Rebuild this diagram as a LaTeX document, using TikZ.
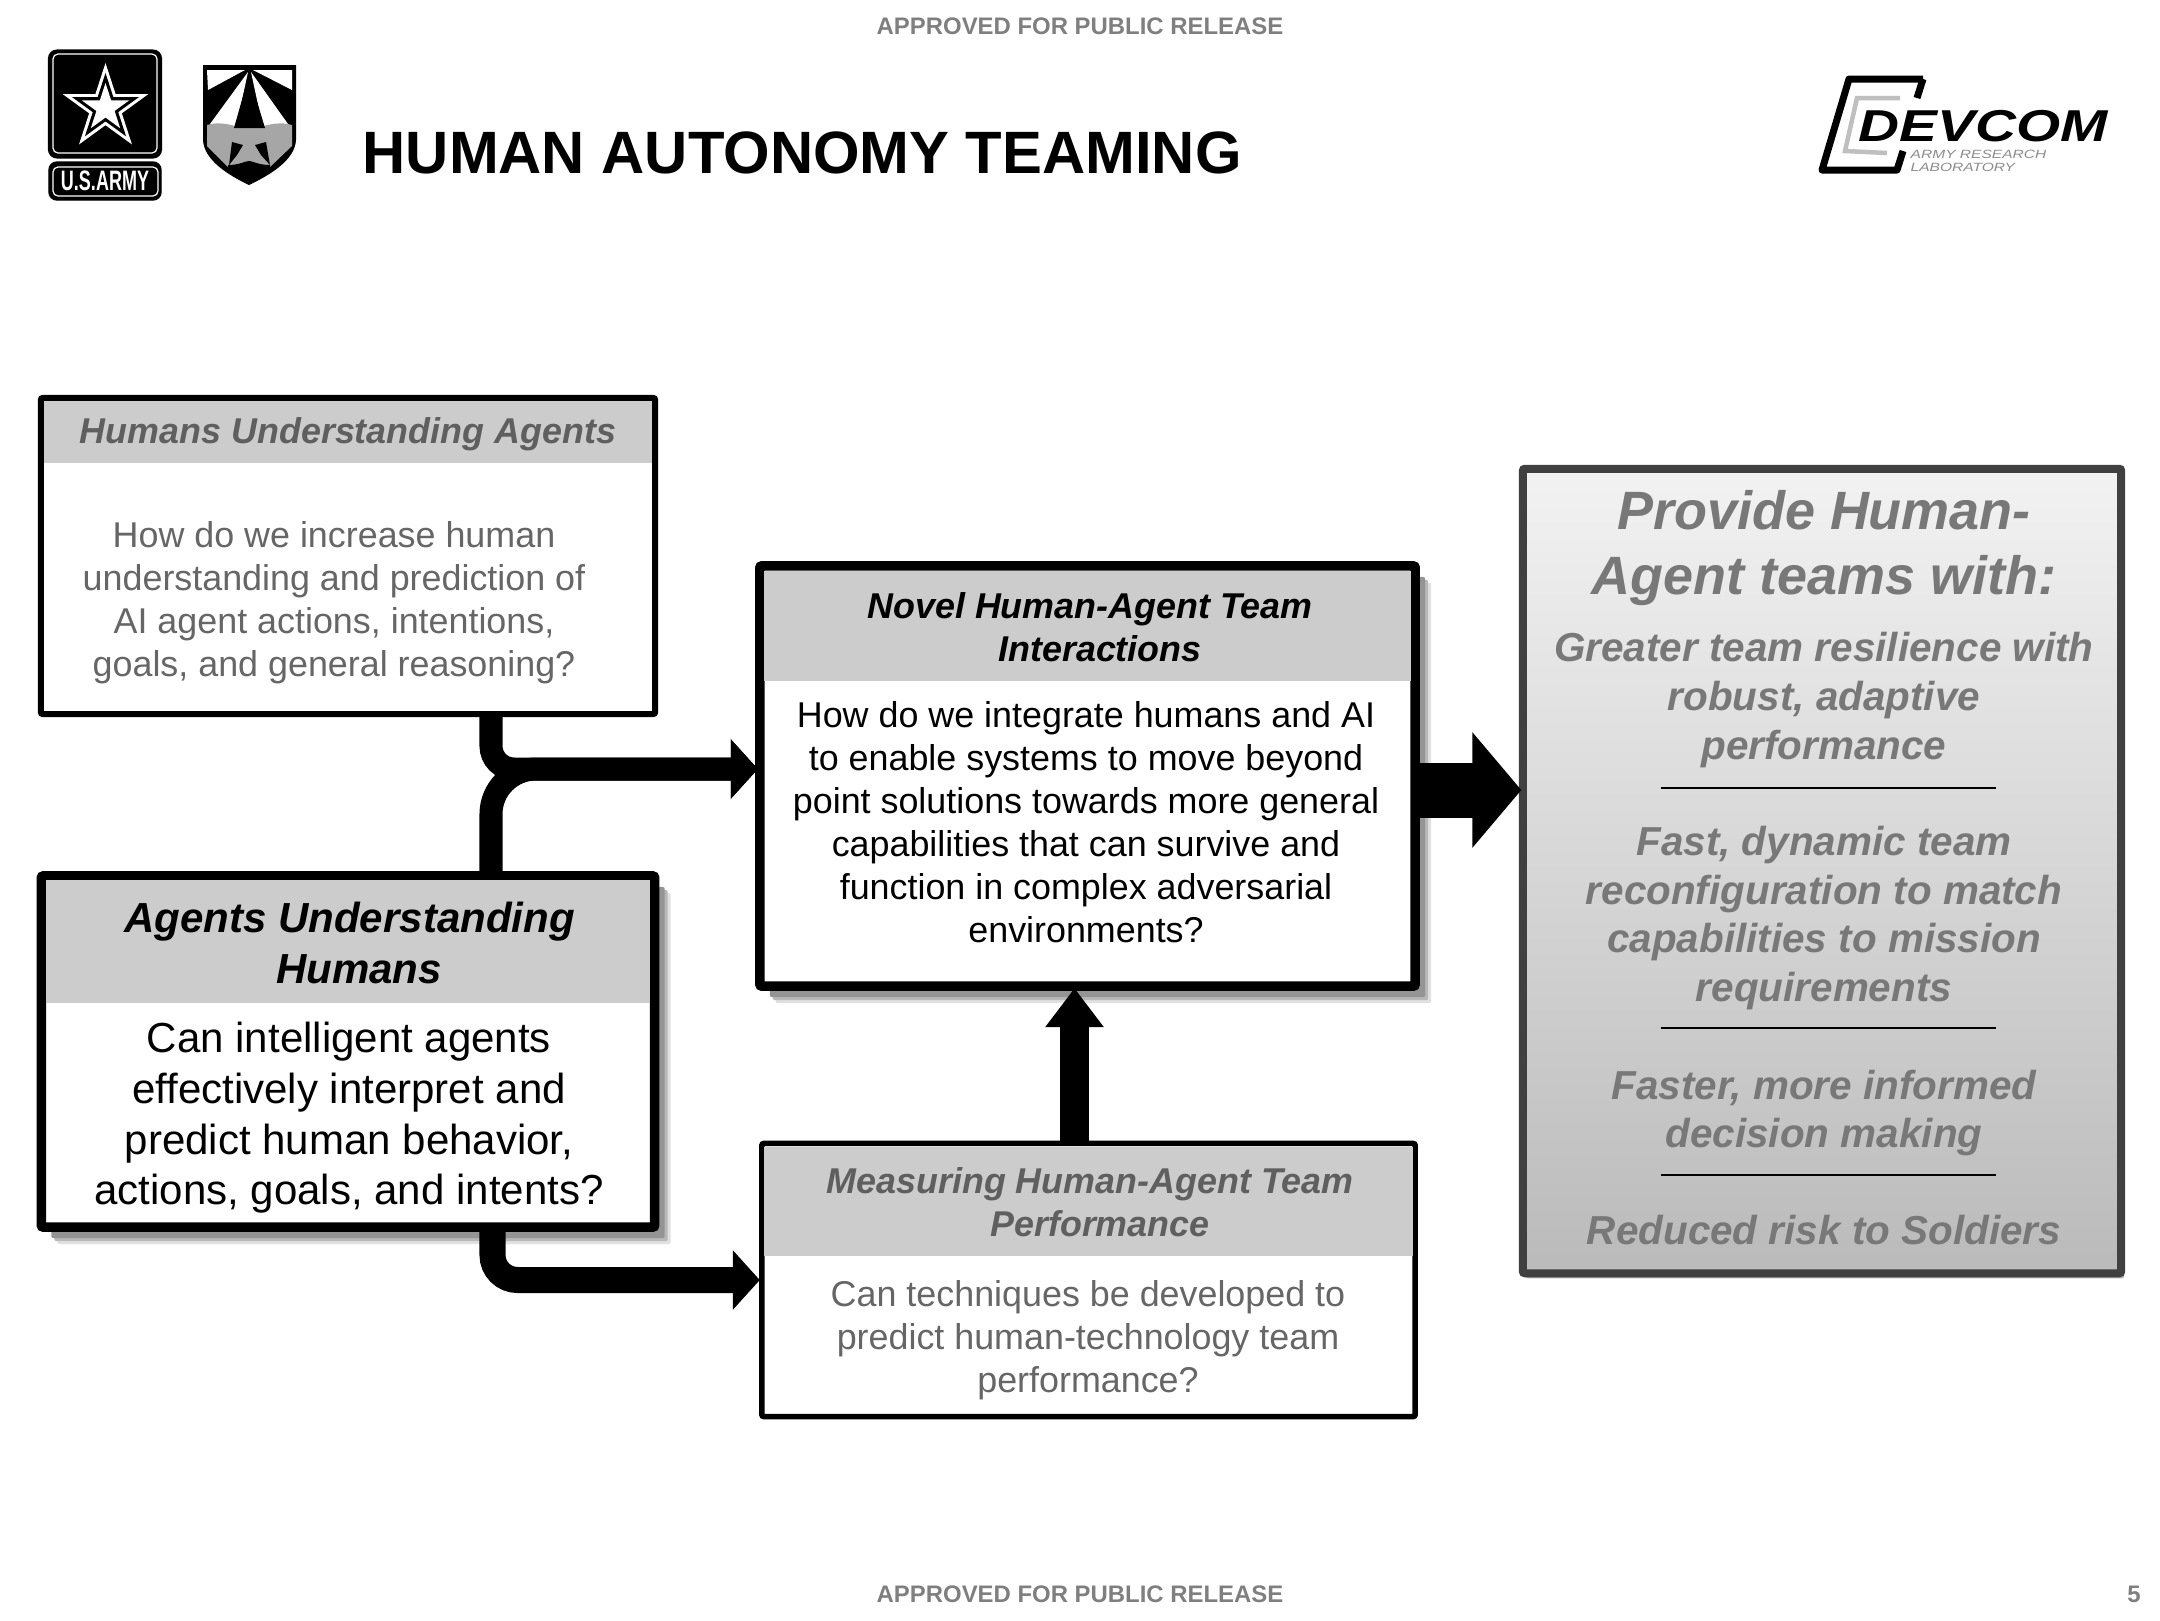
\documentclass[tikz,border=0pt]{standalone}
\usepackage{fontspec}
\setmainfont{Liberation Sans}
\usetikzlibrary{arrows.meta,shapes.geometric,positioning,calc,shadows}
\definecolor{softtext}{HTML}{666666}
\definecolor{softhead}{HTML}{5F5F5F}
\definecolor{panelink}{HTML}{787878}
\definecolor{bannerink}{HTML}{7F7F7F}
\definecolor{headfill}{HTML}{CCCCCC}
\tikzset{
  softdrop/.style={drop shadow={shadow xshift=0.16cm,shadow yshift=-0.17cm,fill=black!12,opacity=1},
    drop shadow={shadow xshift=0.13cm,shadow yshift=-0.14cm,fill=black!28,opacity=1},
    drop shadow={shadow xshift=0.1cm,shadow yshift=-0.11cm,fill=black!42,opacity=1}},
  frame/.style={draw=black,fill=white,outer sep=0pt,inner sep=0pt,rounded corners=0.02cm},
  headbar/.style={fill=headfill,outer sep=0pt,inner sep=0pt},
  smalltext/.style={align=center,inner sep=0pt,font=\fontsize{10.2}{12.25}\selectfont},
  smallhead/.style={smalltext,font=\fontsize{10.2}{12.25}\selectfont\bfseries\itshape},
  bigtext/.style={align=center,inner sep=0pt,font=\fontsize{11.95}{14.4}\selectfont},
  panelhead/.style={align=center,inner sep=0pt,text=panelink,font=\fontsize{15.35}{18.5}\selectfont\bfseries\itshape},
  paneltext/.style={align=center,inner sep=0pt,text=panelink,font=\fontsize{11.5}{13.85}\selectfont\bfseries\itshape},
  banner/.style={inner sep=0pt,text=bannerink,font=\fontsize{6.8}{9}\selectfont\bfseries},
  flow/.style={draw=black,line width=#1,shorten >=0.02cm,-{Triangle[length=0.27cm,width=0.58cm]}},
}
\begin{document}
\begin{tikzpicture}[x=0.01cm,y=-0.01cm]
\useasboundingbox (0,0) rectangle (2160,1620);

\foreach \y/\n in {26/approvedtop,1594/approvedbot} {
  \node[banner] (\n) at (1080,\y) {APPROVED FOR PUBLIC RELEASE};
}
\node[banner] (pagenum) at (2134,1594) {5};
\node[anchor=west,inner sep=0pt,font=\fontsize{17}{20}\selectfont\bfseries] (title) at (362,153) {HUMAN AUTONOMY TEAMING};

% army logo
\node[frame,line width=0.02cm,draw=black,fill=black,rounded corners=0.08cm,minimum width=1.12cm,minimum height=1.07cm] (armybox) at (105,104) {};
\draw[white,line width=0.012cm,rounded corners=0.05cm] (53,54) rectangle (157,153);
\node[star,star points=5,star point ratio=2.618,fill=white,inner sep=0pt,minimum size=0.9cm] (armystar) at (105.5,108) {};
\node[star,star points=5,star point ratio=2.618,fill=black,inner sep=0pt,minimum size=0.7cm] (armystarb) at (105.5,108) {};
\node[star,star points=5,star point ratio=2.618,fill=white,inner sep=0pt,minimum size=0.5cm] (armystarc) at (105.5,108) {};
\node[frame,fill=black,rounded corners=0.08cm,minimum width=1.12cm,minimum height=0.38cm] (armytag) at (105,181) {};
\draw[white,line width=0.012cm,rounded corners=0.05cm] (53,167) rectangle (158,196);
\node[inner sep=0pt,text=white,font=\fontsize{8}{9}\selectfont\bfseries] (armyname) at (105,181) {\scalebox{0.64}[1]{U.S.ARMY}};

% shield
\fill[black] (203,65) -- (296,65) -- (296,140) .. controls (295,160) and (270,175) .. (249,185) .. controls (228,175) and (204,160) .. (203,140) -- cycle;
\fill[white] (207,70) -- (245,70) -- (208,90) -- cycle;
\fill[white] (253,70) -- (292,70) -- (292,90) -- cycle;
\fill[white] (248,72) -- (210,124) -- (236,128) -- cycle;
\fill[white] (251,72) -- (288,124) -- (263,128) -- cycle;
\fill[black!35] (207,125) .. controls (225,120) and (235,128) .. (249,128) .. controls (263,128) and (275,120) .. (292,125) -- (292,146) -- (270,167) -- (228,167) -- (207,146) -- cycle;
\fill[black] (249,75) -- (265,128) -- (234,128) -- cycle;
\fill[black] (232,142) -- (243,145) -- (237,155) -- (229,165) -- cycle;
\fill[black] (266,142) -- (255,145) -- (261,155) -- (270,165) -- cycle;
\fill[black] (228,165) .. controls (240,165) and (245,161) .. (249,161) .. controls (253,161) and (258,165) .. (270,165) -- (270,172) -- (228,172) -- cycle;

% devcom logo
\draw[black,line width=0.07cm,line join=round] (1923,79) -- (1917,98) (1923,79) -- (1849,79) -- (1822,170) -- (1897,170) -- (1903,151);
\draw[black!25,line width=0.045cm] (1900,98) -- (1857,98) -- (1845,151) -- (1887,153);
\node[anchor=west,inner sep=0pt,font=\fontsize{12.7}{14}\selectfont\bfseries\itshape] (devcom) at (1858,126) {\scalebox{1.27}[1]{DEVCOM}};
\node[anchor=west,inner sep=0pt,align=left,text=black!45,font=\fontsize{3.4}{3.8}\selectfont\itshape] (devlab) at (1910,161) {\scalebox{1.3}[1]{ARMY RESEARCH}\\\scalebox{1.3}[1]{LABORATORY}};

% humans understanding agents
\node[frame,line width=0.06cm,minimum width=6.14cm,minimum height=3.16cm] (hua) at (348,556) {};
\node[headbar,minimum width=6.08cm,minimum height=0.62cm] (huabar) at (348,432) {};
\node[smallhead,text=softhead] (huahead) at (348,434) {Humans Understanding Agents};
\node[smalltext,text=softtext] (huabody) at (334,603) {How do we increase human\\understanding and prediction of\\AI agent actions, intentions,\\goals, and general reasoning?};

% agents understanding humans
\node[frame,softdrop,line width=0.095cm,minimum width=6.13cm,minimum height=3.51cm] (auh) at (348,1051.5) {};
\node[headbar,minimum width=6.04cm,minimum height=1.23cm] (auhbar) at (348,941.5) {};
\node[bigtext,font=\fontsize{11.95}{14.4}\selectfont\bfseries\itshape] (auhhead) at (359,943) {Agents Understanding\hspace*{0.19cm}\\Humans};
\node[bigtext] (auhbody) at (349,1118) {Can intelligent agents\\effectively interpret and\\predict human behavior,\\actions, goals, and intents?};

% novel team interactions
\node[frame,softdrop,line width=0.095cm,minimum width=6.55cm,minimum height=4.2cm] (novel) at (1087.5,776) {};
\node[headbar,minimum width=6.46cm,minimum height=1.1cm] (novelbar) at (1087.5,626) {};
\node[smallhead] (novelhead) at (1100,627) {Novel Human-Agent Team\hspace*{0.2cm}\\Interactions};
\node[smalltext] (novelbody) at (1086,822) {How do we integrate humans and AI\\to enable systems to move beyond\\point solutions towards more general\\capabilities that can survive and\\function in complex adversarial\\environments?};

% measuring team performance
\node[frame,line width=0.055cm,minimum width=6.53cm,minimum height=2.73cm] (measure) at (1088.5,1280) {};
\node[headbar,minimum width=6.48cm,minimum height=1.09cm] (measurebar) at (1088.5,1201.5) {};
\node[smallhead,text=softhead] (measurehead) at (1100,1202) {Measuring Human-Agent Team\hspace*{0.2cm}\\Performance};
\node[smalltext,text=softtext] (measurebody) at (1088,1340) {Can techniques be developed to\\predict human-technology team\\performance?};

% provide panel
\node[frame,drop shadow={shadow xshift=0.03cm,shadow yshift=-0.05cm,fill=black!30,opacity=1},draw=black!75,line width=0.08cm,top color=black!5,bottom color=black!27,minimum width=5.98cm,minimum height=8.04cm] (panel) at (1822,871) {};
\node[panelhead] (panelhead) at (1824,548) {Provide Human-\\Agent teams with:};
\node[paneltext] (panelone) at (1824,700) {Greater team resilience with\\robust, adaptive\\performance};
\node[paneltext] (paneltwo) at (1824,918) {Fast, dynamic team\\reconfiguration to match\\capabilities to mission\\requirements};
\node[paneltext] (panelthree) at (1824,1113) {Faster, more informed\\decision making};
\node[paneltext] (panelfour) at (1824,1230) {Reduced risk to Soldiers};
\foreach \y in {788,1028,1175} {
  \draw[black,line width=0.015cm] (1661,\y) -- (1996,\y);
}

% connectors
\coordinate (upjoin) at (491,769);
\coordinate (lowjoin) at (492.5,1280);
\draw[flow=0.23cm,rounded corners=0.23cm] (hua.south -| upjoin) |- (novel.west |- upjoin);
\draw[flow=0.23cm,rounded corners=0.45cm] (auh.north -| upjoin) |- (novel.west |- upjoin);
\draw[flow=0.26cm,rounded corners=0.25cm] (auh.south -| lowjoin) |- (measure.west |- lowjoin);
\coordinate (midup) at (1074.5,1100);
\draw[draw=black,line width=0.29cm,shorten >=0.02cm,-{Triangle[length=0.39cm,width=0.56cm]}] (measure.north -| midup) -- (novel.south -| midup);
\coordinate (midright) at (1500,790);
\draw[draw=black,line width=0.55cm,shorten >=0.015cm,-{Triangle[length=0.49cm,width=1.13cm]}] (novel.east |- midright) -- (panel.west |- midright);
\end{tikzpicture}
\end{document}
